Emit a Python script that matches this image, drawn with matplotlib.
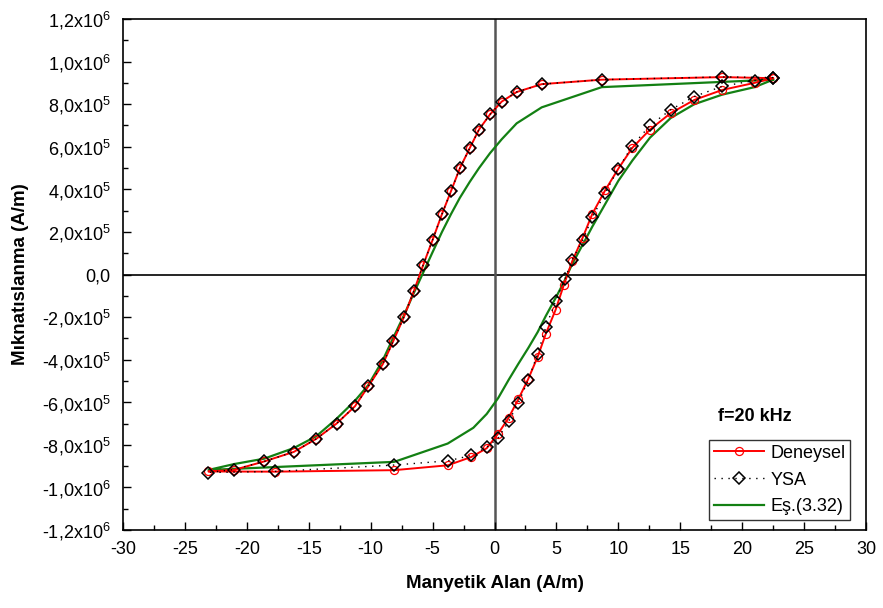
import matplotlib
matplotlib.use("Agg")
import matplotlib.pyplot as plt
from matplotlib.ticker import MultipleLocator, FixedLocator
import numpy as np

plt.rcParams['font.family'] = ['Liberation Sans', 'DejaVu Sans']
plt.rcParams['mathtext.default'] = 'regular'

# Deneysel (experimental) - descending branch then ascending branch (values in 1e5 A/m)
exp_up_x = [22.5, 18.4, 8.66, 3.81, 1.79, 0.58, -0.36, -1.25, -1.98, -2.79, -3.51, -4.24, -4.99,
            -5.75, -6.5, -7.31, -8.17, -9.03, -10.19, -11.27, -12.75, -14.4, -16.2, -18.6, -21.05, -23.1]
exp_up_y = [9.22, 9.27, 9.15, 8.94, 8.57, 8.12, 7.52, 6.81, 5.96, 5.0, 3.92, 2.84, 1.64,
            0.46, -0.76, -1.99, -3.12, -4.22, -5.25, -6.19, -7.0, -7.72, -8.33, -8.78, -9.18, -9.25]
exp_lo_x = [-23.1, -17.73, -8.1, -3.76, -1.87, -0.63, 0.3, 1.14, 1.92, 2.73, 3.49, 4.14, 4.94,
            5.61, 6.28, 7.12, 7.9, 8.93, 10.0, 11.13, 12.56, 14.23, 16.14, 18.4, 21.0, 22.5]
exp_lo_y = [-9.25, -9.26, -9.19, -8.96, -8.57, -8.16, -7.47, -6.73, -5.86, -4.9, -3.86, -2.79, -1.65,
            -0.47, 0.63, 1.73, 2.85, 3.95, 4.97, 5.95, 6.81, 7.58, 8.2, 8.67, 9.0, 9.22]

# YSA (ANN)
ysa_up_x = exp_up_x
ysa_up_y = [9.25, 9.28, 9.15, 8.94, 8.57, 8.12, 7.52, 6.81, 5.96, 5.0, 3.92, 2.84, 1.64,
            0.46, -0.76, -1.99, -3.12, -4.22, -5.25, -6.19, -7.0, -7.72, -8.33, -8.78, -9.16, -9.3]
ysa_lo_x = [-23.1, -17.73, -8.1, -3.76, -1.87, -0.63, 0.3, 1.14, 1.92, 2.73, 3.49, 4.14, 4.94,
            5.69, 6.28, 7.12, 7.9, 8.93, 10.0, 11.13, 12.56, 14.23, 16.14, 18.4, 21.0, 22.5]
ysa_lo_y = [-9.3, -9.25, -8.95, -8.75, -8.5, -8.12, -7.67, -6.9, -6.04, -4.94, -3.72, -2.47, -1.25,
            -0.2, 0.7, 1.6, 2.69, 3.82, 4.97, 6.05, 7.0, 7.74, 8.36, 8.84, 9.11, 9.25]

# Es.(3.32) model
eq_up_x = [22.5, 8.66, 3.81, 1.79, 0.58, -0.36, -1.25, -2.0, -2.8, -3.5, -4.24, -5.0, -5.75,
           -6.5, -7.3, -8.2, -9.0, -10.2, -11.3, -12.8, -14.4, -16.2, -18.6, -21.0, -23.1]
eq_up_y = [9.15, 8.8, 7.85, 7.1, 6.35, 5.7, 5.0, 4.35, 3.6, 2.85, 2.0, 1.05, 0.1,
           -0.85, -1.9, -3.0, -4.0, -5.2, -5.95, -6.8, -7.6, -8.15, -8.65, -8.9, -9.18]
eq_lo_x = [-23.1, -8.1, -3.78, -1.71, -0.63, 0.3, 1.14, 1.92, 2.73, 3.49, 4.14, 4.94, 5.65,
           6.28, 7.12, 7.9, 8.93, 10.0, 11.13, 12.56, 14.23, 16.14, 18.4, 21.0, 22.5]
eq_lo_y = [-9.18, -8.8, -7.94, -7.2, -6.55, -5.8, -4.95, -4.2, -3.45, -2.7, -1.95, -1.1, -0.3,
           0.5, 1.4, 2.25, 3.3, 4.4, 5.35, 6.43, 7.35, 8.0, 8.45, 8.8, 9.15]

scale = 1e5
yticks = [-12, -10, -8, -6, -4, -2, 0, 2, 4, 6, 8, 10, 12]
ytick_labels = ['-1,2x10$^{6}$', '-1,0x10$^{6}$', '-8,0x10$^{5}$', '-6,0x10$^{5}$', '-4,0x10$^{5}$',
                '-2,0x10$^{5}$', '0,0', '2,0x10$^{5}$', '4,0x10$^{5}$', '6,0x10$^{5}$',
                '8,0x10$^{5}$', '1,0x10$^{6}$', '1,2x10$^{6}$']
xticks = [-30, -25, -20, -15, -10, -5, 0, 5, 10, 15, 20, 25, 30]

fig = plt.figure(figsize=(8.83, 6.08), dpi=100)
ax = fig.add_axes([123/883, 78/608, 743/883, 511/608])

ax.axhline(0, color='black', lw=1.2, zorder=1)
ax.axvline(0, color='#555555', lw=1.8, zorder=1)

ex = exp_up_x + exp_lo_x[1:]
ey = [v * scale for v in exp_up_y + exp_lo_y[1:]]
yx = ysa_up_x + ysa_lo_x[1:]
yy = [v * scale for v in ysa_up_y + ysa_lo_y[1:]]
qx = eq_up_x + eq_lo_x[1:]
qy = [v * scale for v in eq_up_y + eq_lo_y[1:]]

l1, = ax.plot(ex, ey, color='red', lw=1.4, marker='o', ms=5.8, mfc='none', mec='red', mew=0.9,
              zorder=3, label='Deneysel')
l2, = ax.plot(yx, yy, color='black', lw=1.0, ls=(0, (1, 4)), marker='D', ms=6.2, mfc='none',
              mec='black', mew=1.1, zorder=4, label='YSA')
l3, = ax.plot(qx, qy, color='#138013', lw=1.6, zorder=2, label='Eş.(3.32)')

ax.set_xlim(-30, 30)
ax.set_ylim(-12 * scale, 12 * scale)
ax.xaxis.set_major_locator(FixedLocator(xticks))
ax.xaxis.set_minor_locator(MultipleLocator(2.5))
ax.yaxis.set_major_locator(FixedLocator([v * scale for v in yticks]))
ax.yaxis.set_minor_locator(MultipleLocator(1 * scale))
ax.set_xticklabels([str(t) for t in xticks])
ax.set_yticklabels(ytick_labels)
ax.tick_params(which='major', direction='in', length=6, width=1, labelsize=13)
ax.tick_params(axis='x', which='major', pad=8)
ax.tick_params(axis='y', which='major', pad=9)
ax.tick_params(which='minor', direction='in', length=3.5, width=1)
ax.tick_params(top=False, right=False, which='both')
for s in ax.spines.values():
    s.set_linewidth(1.2)

ax.set_xlabel('Manyetik Alan (A/m)', fontsize=13.5, fontweight='bold', labelpad=12)
ax.set_ylabel('Mıknatıslanma (A/m)', fontsize=13.5, fontweight='bold', labelpad=9)

leg = ax.legend(handles=[l1, l2, l3], loc='lower right', bbox_to_anchor=(0.9785, 0.0196),
                fontsize=13, frameon=True, fancybox=False, edgecolor='black',
                handlelength=2.8, borderpad=0.25, labelspacing=0.55, handletextpad=0.35,
                borderaxespad=0)
leg.get_frame().set_linewidth(1.0)

ax.text(0.801, 0.222, 'f=20 kHz', transform=ax.transAxes, fontsize=13, fontweight='bold',
        ha='left', va='center')

fig.savefig('out.png', dpi=100)
